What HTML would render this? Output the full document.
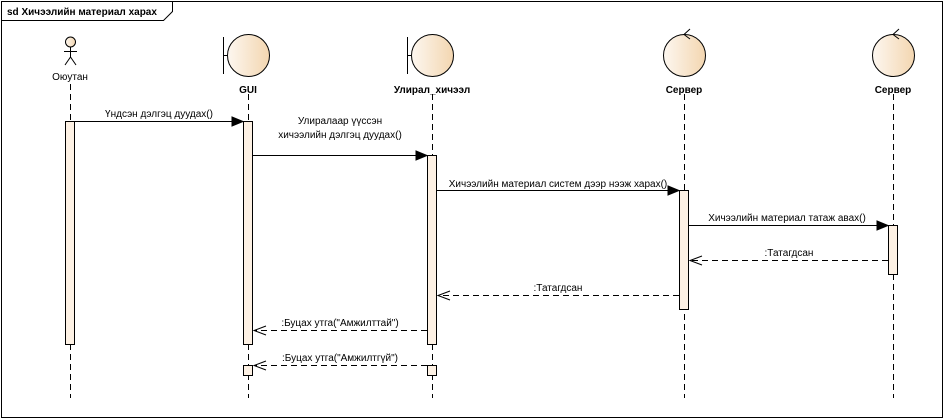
<!DOCTYPE html>
<html><head><meta charset="utf-8"><style>body{margin:0;background:#fff}svg{display:block}</style></head>
<body>
<svg width="944" height="420" xmlns="http://www.w3.org/2000/svg" font-family="Liberation Sans, Arial, sans-serif" font-size="10">
<defs>
<linearGradient id="g" x1="0" x2="1"><stop offset="0" stop-color="#fdf7f0"/><stop offset="1" stop-color="#f3d6b0"/></linearGradient>
</defs>
<rect x="1.5" y="1.5" width="941" height="416" fill="#fff" stroke="#000"/>
<path d="M1.5 20.5H163.5L172.5 11.5V1.5" fill="none" stroke="#000"/>
<text x="7" y="15" font-weight="bold" font-size="10">sd Хичээлийн материал харах</text>
<g stroke="#000" stroke-dasharray="6,4" fill="none">
<line x1="70.5" y1="84" x2="70.5" y2="398"/>
<line x1="248.5" y1="94" x2="248.5" y2="398"/>
<line x1="432.5" y1="94" x2="432.5" y2="398"/>
<line x1="684.5" y1="94" x2="684.5" y2="398"/>
<line x1="893.5" y1="94" x2="893.5" y2="398"/>
</g>
<g stroke="#000" fill="none">
<circle cx="70.5" cy="42" r="5" fill="url(#g)"/>
<line x1="70.5" y1="47" x2="70.5" y2="57"/>
<line x1="64" y1="51.5" x2="77" y2="51.5"/>
<line x1="70.5" y1="57" x2="65" y2="65"/>
<line x1="70.5" y1="57" x2="76" y2="65"/>
</g>
<text x="70" y="80" text-anchor="middle">Оюутан</text>
<g stroke="#000">
<line x1="223.5" y1="37" x2="223.5" y2="74"/><line x1="223.5" y1="55.5" x2="227" y2="55.5"/>
<circle cx="248.5" cy="55.5" r="21" fill="url(#g)"/>
<line x1="407.5" y1="37" x2="407.5" y2="74"/><line x1="407.5" y1="55.5" x2="411" y2="55.5"/>
<circle cx="432.5" cy="55.5" r="21" fill="url(#g)"/>
<circle cx="684.5" cy="55.5" r="21" fill="url(#g)"/>
<path d="M690 29L684 34.5L690 39" fill="none"/>
<circle cx="893.5" cy="55.5" r="21" fill="url(#g)"/>
<path d="M899 29L893 34.5L899 39" fill="none"/>
</g>
<g font-weight="bold" text-anchor="middle">
<text x="248" y="93">GUI</text>
<text x="432" y="93">Улирал_хичээл</text>
<text x="684" y="93">Сервер</text>
<text x="893" y="93">Сервер</text>
</g>
<g stroke="#000" fill="#fdf1e4">
<rect x="65.5" y="121.5" width="9" height="223"/>
<rect x="243.5" y="121.5" width="9" height="223"/>
<rect x="427.5" y="155.5" width="9" height="189"/>
<rect x="679.5" y="190.5" width="9" height="119"/>
<rect x="888.5" y="225.5" width="9" height="49"/>
<rect x="243.5" y="365.5" width="9" height="10"/>
<rect x="427.5" y="365.5" width="9" height="10"/>
</g>
<g stroke="#000">
<line x1="75" y1="121.5" x2="233" y2="121.5"/><path d="M232 117L243 121.5L232 126Z"/>
<line x1="253" y1="155.5" x2="417" y2="155.5"/><path d="M416 151L427 155.5L416 160Z"/>
<line x1="437" y1="190.5" x2="669" y2="190.5"/><path d="M668 186L679 190.5L668 195Z"/>
<line x1="689" y1="225.5" x2="878" y2="225.5"/><path d="M877 221L888 225.5L877 230Z"/>
</g>
<g stroke="#000" fill="none">
<line x1="888" y1="260.5" x2="690" y2="260.5" stroke-dasharray="6,4"/><path d="M702 256L690 260.5L702 265"/>
<line x1="679" y1="295.5" x2="438" y2="295.5" stroke-dasharray="6,4"/><path d="M450 291L438 295.5L450 300"/>
<line x1="427" y1="330.5" x2="254" y2="330.5" stroke-dasharray="6,4"/><path d="M266 326L254 330.5L266 335"/>
<line x1="427" y1="365.5" x2="254" y2="365.5" stroke-dasharray="6,4"/><path d="M266 361L254 365.5L266 370"/>
</g>
<g text-anchor="middle">
<text x="159" y="117">Үндсэн дэлгэц дуудах()</text>
<text x="340" y="124">Улиралаар үүссэн</text>
<text x="340" y="138">хичээлийн дэлгэц дуудах()</text>
<text x="558" y="187">Хичээлийн материал систем дээр нээж харах()</text>
<text x="787" y="221">Хичээлийн материал татаж авах()</text>
<text x="789" y="256">:Татагдсан</text>
<text x="558" y="291">:Татагдсан</text>
<text x="340" y="326">:Буцах утга("Амжилттай")</text>
<text x="340" y="361">:Буцах утга("Амжилтгүй")</text>
</g>
</svg>
</body></html>
